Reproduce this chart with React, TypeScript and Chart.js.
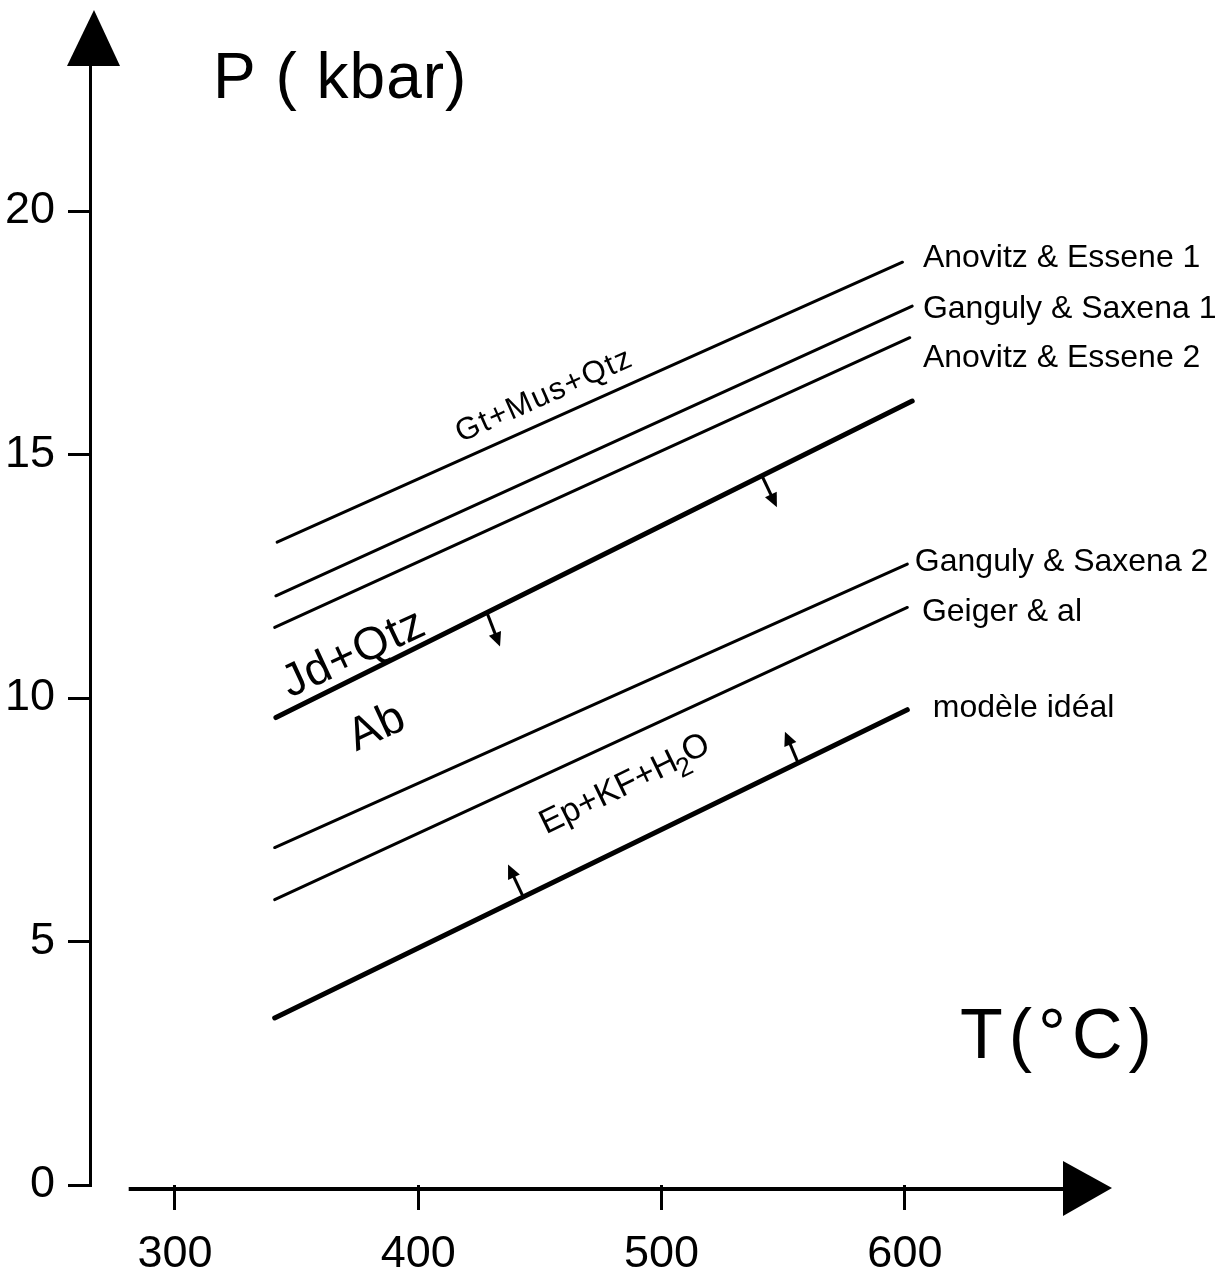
import React, { useEffect, useRef } from "react";
import { Chart, registerables } from "chart.js";

Chart.register(...registerables);

// ---------- data ----------
const xTickValues = [300, 400, 500, 600];
const yTickValues = [0, 5, 10, 15, 20];

const seriesLabels = [
  "Anovitz & Essene 1",
  "Ganguly & Saxena 1",
  "Anovitz & Essene 2",
  "Jd+Qtz = Ab",
  "Ganguly & Saxena 2",
  "Geiger & al",
  "modèle idéal",
];

const anovitz1T = [342, 599];
const anovitz1P = [13.2, 18.95];
const ganguly1T = [341.5, 603];
const ganguly1P = [12.1, 18.05];
const anovitz2T = [341, 602];
const anovitz2P = [11.45, 17.4];
const jadeiteT = [341.5, 603];
const jadeiteP = [9.6, 16.1];
const ganguly2T = [341, 601];
const ganguly2P = [6.93, 12.75];
const geigerT = [341, 601];
const geigerP = [5.86, 11.86];
const idealT = [341, 601];
const idealP = [3.43, 9.76];

const seriesT = [anovitz1T, ganguly1T, anovitz2T, jadeiteT, ganguly2T, geigerT, idealT];
const seriesP = [anovitz1P, ganguly1P, anovitz2P, jadeiteP, ganguly2P, geigerP, idealP];

// reaction direction arrows (tail on the curve -> head)
const arrowTailT = [428.2, 541.2, 443.0, 556.0];
const arrowTailP = [11.76, 14.57, 5.93, 8.68];
const arrowHeadT = [433.6, 547.4, 436.9, 550.7];
const arrowHeadP = [11.06, 13.92, 6.58, 9.31];

// ---------- styles / layout ----------
const FONT = "'Liberation Sans', Arial, sans-serif";
const seriesWidth = [3, 3, 3, 5, 3, 3, 5];

// right-hand curve labels: text, anchor (T, P of left/baseline)
const curveLabelText = [
  "Anovitz & Essene 1",
  "Ganguly & Saxena 1",
  "Anovitz & Essene 2",
  "Ganguly & Saxena 2",
  "Geiger & al",
  "modèle idéal",
];
const curveLabelAnchor = [
  [607.4, 18.85],
  [607.4, 17.8],
  [607.4, 16.79],
  [604.1, 12.6],
  [607.0, 11.59],
  [611.5, 9.62],
];

// field labels along curves: text, anchor (T,P of left baseline), angle, size, spacing
const fieldLabels = [
  { text: "Gt+Mus+Qtz", at: [417.5, 15.25], angle: -24, size: 31, spacing: 1.5 },
  { text: "Jd+Qtz", at: [347.3, 10.0], angle: -25, size: 46, spacing: 1 },
  { text: "Ab", at: [374.5, 8.9], angle: -25, size: 46, spacing: 1 },
];
const ephLabel = { at: [452.5, 7.2], angle: -26, size: 34 };

const decorPlugin = {
  id: "decor",
  afterDraw(chart: any) {
    const { ctx, chartArea, scales } = chart;
    const xs = scales.x;
    const ys = scales.y;
    const px = (t: number) => xs.getPixelForValue(t);
    const py = (p: number) => ys.getPixelForValue(p);
    ctx.save();
    ctx.fillStyle = "#000";
    ctx.strokeStyle = "#000";

    // y-axis arrowhead
    const ax = chartArea.left;
    ctx.beginPath();
    ctx.moveTo(ax + 4, chartArea.top - 55);
    ctx.lineTo(ax - 23, chartArea.top + 1);
    ctx.lineTo(ax + 30, chartArea.top + 1);
    ctx.closePath();
    ctx.fill();

    // x axis line + arrowhead
    const ay = chartArea.bottom + 4;
    ctx.lineWidth = 4;
    ctx.beginPath();
    ctx.moveTo(px(281), ay);
    ctx.lineTo(chartArea.right, ay);
    ctx.stroke();
    ctx.beginPath();
    ctx.moveTo(chartArea.right + 47, ay - 1);
    ctx.lineTo(chartArea.right - 2, ay - 28);
    ctx.lineTo(chartArea.right - 2, ay + 27);
    ctx.closePath();
    ctx.fill();

    // reaction arrows
    for (let i = 0; i < arrowTailT.length; i++) {
      const x0 = px(arrowTailT[i]);
      const y0 = py(arrowTailP[i]);
      const x1 = px(arrowHeadT[i]);
      const y1 = py(arrowHeadP[i]);
      const a = Math.atan2(y1 - y0, x1 - x0);
      const hl = 14;
      const hw = 6.5;
      ctx.lineWidth = 3;
      ctx.beginPath();
      ctx.moveTo(x0, y0);
      ctx.lineTo(x1 - Math.cos(a) * hl * 0.6, y1 - Math.sin(a) * hl * 0.6);
      ctx.stroke();
      ctx.beginPath();
      ctx.moveTo(x1, y1);
      ctx.lineTo(x1 - Math.cos(a) * hl - Math.sin(a) * hw, y1 - Math.sin(a) * hl + Math.cos(a) * hw);
      ctx.lineTo(x1 - Math.cos(a) * hl + Math.sin(a) * hw, y1 - Math.sin(a) * hl - Math.cos(a) * hw);
      ctx.closePath();
      ctx.fill();
    }

    // axis titles
    ctx.textBaseline = "alphabetic";
    ctx.textAlign = "left";
    (ctx as any).letterSpacing = "1px";
    ctx.font = `64px ${FONT}`;
    ctx.fillText("P ( kbar)", 213, 98);
    (ctx as any).letterSpacing = "6px";
    ctx.font = `70px ${FONT}`;
    ctx.fillText("T(°C)", 960, 1058);

    // curve labels
    (ctx as any).letterSpacing = "0px";
    ctx.font = `32px ${FONT}`;
    for (let i = 0; i < curveLabelText.length; i++) {
      const [t, p] = curveLabelAnchor[i];
      ctx.fillText(curveLabelText[i], px(t), py(p));
    }

    // field labels
    for (const f of fieldLabels) {
      ctx.save();
      ctx.translate(px(f.at[0]), py(f.at[1]));
      ctx.rotate((f.angle * Math.PI) / 180);
      (ctx as any).letterSpacing = `${f.spacing}px`;
      ctx.font = `${f.size}px ${FONT}`;
      ctx.fillText(f.text, 0, 0);
      ctx.restore();
    }

    // Ep+KF+H2O with subscript
    ctx.save();
    ctx.translate(px(ephLabel.at[0]), py(ephLabel.at[1]));
    ctx.rotate((ephLabel.angle * Math.PI) / 180);
    (ctx as any).letterSpacing = "0px";
    ctx.font = `${ephLabel.size}px ${FONT}`;
    const s1 = "Ep+KF+H";
    ctx.fillText(s1, 0, 0);
    let w = ctx.measureText(s1).width;
    ctx.font = `${Math.round(ephLabel.size * 0.8)}px ${FONT}`;
    ctx.fillText("2", w - 3, 9);
    w += ctx.measureText("2").width - 5;
    ctx.font = `${ephLabel.size}px ${FONT}`;
    ctx.fillText("O", w, -2);
    ctx.restore();

    ctx.restore();
  },
};

export default function App() {
  const ref = useRef<HTMLCanvasElement>(null);

  useEffect(() => {
    const canvas = ref.current;
    if (!canvas) return;
    const datasets = seriesT.map((ts, i) => ({
      label: seriesLabels[i],
      data: ts.map((t, j) => ({ x: t, y: seriesP[i][j] })),
      showLine: true,
      borderColor: "#000",
      backgroundColor: "#000",
      borderWidth: seriesWidth[i],
      borderCapStyle: "round",
      pointRadius: 0,
      tension: 0,
    }));

    const chart = new Chart(canvas, {
      type: "scatter",
      data: { datasets } as any,
      options: {
        animation: false,
        responsive: false,
        devicePixelRatio: 1,
        events: [],
        layout: { padding: { top: 65, right: 158, bottom: 0, left: 0 } },
        plugins: {
          legend: { display: false },
          tooltip: { enabled: false },
        },
        scales: {
          x: {
            type: "linear",
            position: "bottom",
            min: 265.1,
            max: 665.8,
            afterBuildTicks: (s: any) => {
              s.ticks = xTickValues.map((v) => ({ value: v }));
            },
            afterFit: (s: any) => {
              s.height = 95;
            },
            border: { display: false },
            grid: {
              display: true,
              drawOnChartArea: false,
              drawTicks: true,
              tickLength: 25,
              color: "#000",
              lineWidth: 3,
            },
            ticks: {
              color: "#000",
              font: { family: FONT, size: 45 },
              padding: 18,
              maxRotation: 0,
              autoSkip: false,
              callback: (v: any) => String(v),
            },
          },
          y: {
            type: "linear",
            position: "left",
            min: 0,
            max: 23,
            afterBuildTicks: (s: any) => {
              s.ticks = yTickValues.map((v) => ({ value: v }));
            },
            afterFit: (s: any) => {
              s.width = 90;
            },
            border: { display: true, color: "#000", width: 3 },
            grid: {
              display: true,
              drawOnChartArea: false,
              drawTicks: true,
              tickLength: 22,
              color: "#000",
              lineWidth: 3,
            },
            ticks: {
              color: "#000",
              font: { family: FONT, size: 45 },
              padding: 13,
              autoSkip: false,
              callback: (v: any) => String(v),
            },
          },
        },
      } as any,
      plugins: [decorPlugin],
    });
    return () => chart.destroy();
  }, []);

  return (
    <div
      style={{
        position: "absolute",
        left: 0,
        top: 0,
        width: 1223,
        height: 1280,
        background: "#fff",
      }}
    >
      <canvas
        ref={ref}
        width={1223}
        height={1280}
        style={{ display: "block", width: 1223, height: 1280 }}
      />
    </div>
  );
}
